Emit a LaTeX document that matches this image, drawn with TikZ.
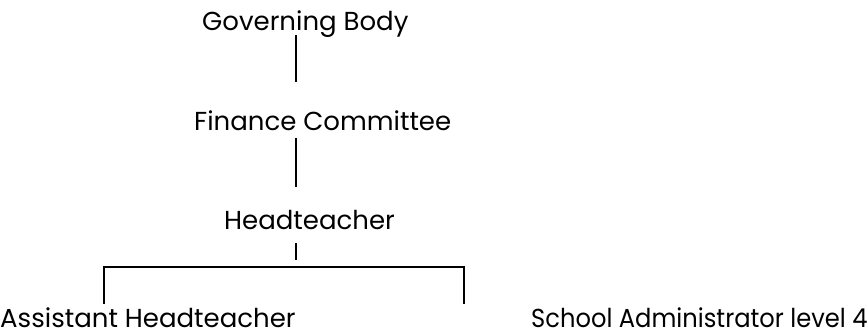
\documentclass[tikz,border=0pt]{standalone}
\usepackage{fontspec}
\setmainfont{Poppins}
\newfontfamily\narrowfont[FakeStretch=0.93]{Poppins}
\usepackage{tikz}
\usetikzlibrary{positioning}

\begin{document}
\begin{tikzpicture}[x=1pt, y=-1pt,
  post/.style={anchor=base west, inner sep=0pt, font=\fontsize{26}{30}\selectfont},
  link/.style={line width=2pt}]
  \useasboundingbox (0,0) rectangle (867,329);
  \node[post] (GB) at (202,31) {Governing Body};
  \node[post] (FC) at (194,130) {Finance Committee};
  \node[post] (HT) at (224,229) {Headteacher};
  \node[post] (AH) at (0,327) {Assistant Headteacher};
  \node[post, font=\narrowfont\fontsize{26}{30}\selectfont] (SA) at (531,327) {School Administrator level 4};
  \coordinate (GBfoot) at (296,35);
  \coordinate (FCtop) at (296,82);
  \coordinate (FCfoot) at (296,138);
  \coordinate (HTtop) at (296,187);
  \coordinate (HTfoot) at (296,243);
  \coordinate (split) at (296,260);
  \coordinate (AHtop) at (104,304);
  \coordinate (barL) at (104,267);
  \coordinate (barR) at (464,267);
  \coordinate (barEnd) at (464,304);
  \draw[link] (GBfoot) -- (FCtop);
  \draw[link] (FCfoot) -- (HTtop);
  \draw[link] (HTfoot) -- (split);
  \draw[link] (AHtop) -- (barL) -- (barR) -- (barEnd);
\end{tikzpicture}
\end{document}
